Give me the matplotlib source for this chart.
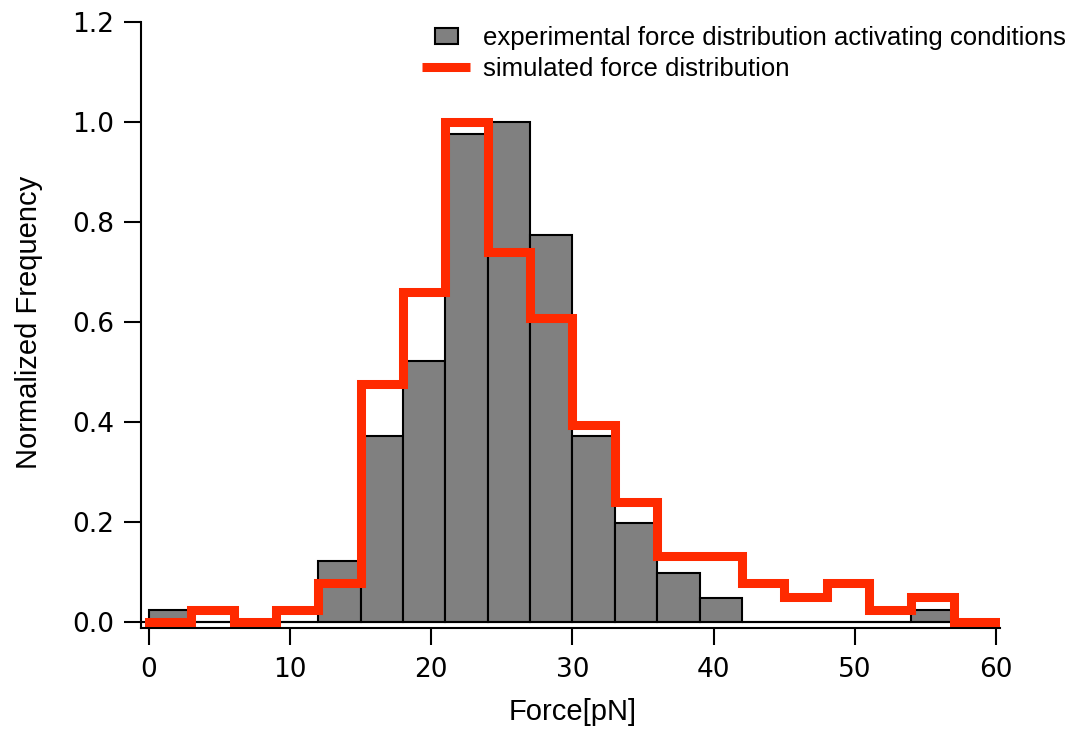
import numpy as np
import matplotlib
matplotlib.use("Agg")
import matplotlib.pyplot as plt
from matplotlib.patches import Patch, Rectangle
from matplotlib.lines import Line2D
from matplotlib.legend_handler import HandlerPatch

# bin edges in pN (3 pN bins, 0..60)
bin_edges = np.arange(0, 61, 3)

# experimental histogram (normalized)
exp_freq = [0.024, 0.0, 0.0, 0.0, 0.122, 0.372, 0.522, 0.976, 1.0, 0.774,
            0.372, 0.198, 0.098, 0.048, 0.0, 0.0, 0.0, 0.0, 0.024, 0.0]

# simulated distribution (normalized)
sim_freq = [0.0, 0.024, 0.0, 0.024, 0.078, 0.476, 0.66, 1.0, 0.74, 0.608,
            0.394, 0.24, 0.132, 0.132, 0.078, 0.05, 0.078, 0.024, 0.05, 0.0]

RED = '#ff2a00'
GRAY = '#808080'
plt.rcParams['font.family'] = ['DejaVu Sans']

fig = plt.figure(figsize=(10.72, 7.32), dpi=100)
ax = fig.add_axes([0.1315, 0.142, 0.8015, 0.828])

ax.bar(bin_edges[:-1], exp_freq, width=3, align='edge', color=GRAY,
       edgecolor='black', linewidth=1.5, zorder=2)
ax.plot([-0.57, 60.3], [0, 0], color='black', lw=1.5, zorder=2.5)
st = ax.stairs(sim_freq, bin_edges, color=RED, linewidth=6.5, zorder=3)
st.set_capstyle('projecting')

ax.set_xlim(-0.57, 60.3)
ax.set_ylim(-0.012, 1.2)
ax.set_xticks(np.arange(0, 61, 10))
ax.set_yticks(np.arange(0, 1.21, 0.2))
ax.set_yticklabels([f"{v:.1f}" for v in np.arange(0, 1.21, 0.2)])

for s in ['top', 'right']:
    ax.spines[s].set_visible(False)
for s in ['left', 'bottom']:
    ax.spines[s].set_linewidth(1.5)
ax.tick_params(direction='out', length=12.5, width=1.5, labelsize=19)
ax.tick_params(axis='x', pad=8)
ax.tick_params(axis='y', pad=6.5)

ax.set_xlabel("Force[pN]", fontsize=21, family='Liberation Sans')
ax.set_ylabel("Normalized Frequency", fontsize=21, family='Liberation Sans')
ax.xaxis.set_label_coords(0.502, -0.115)
ax.yaxis.set_label_coords(-0.114, 0.505)


def small_rect(legend, orig_handle, xdescent, ydescent, width, height, fontsize):
    w, h = 16.5, 11.5
    return Rectangle((-xdescent + (width - w) / 2, -ydescent + (height - h) / 2), w, h)


handles = [Patch(facecolor=GRAY, edgecolor='black', linewidth=1.5),
           Line2D([0], [0], color=RED, lw=6.5, solid_capstyle='butt')]
labels = ["experimental force distribution activating conditions",
          "simulated force distribution"]
leg = ax.legend(handles, labels, loc='upper left', bbox_to_anchor=(0.3937, 0.965),
                bbox_transform=fig.transFigure, frameon=False,
                prop={'family': 'Liberation Sans', 'size': 18.5},
                handlelength=1.87, handletextpad=0.5, labelspacing=0.3,
                borderpad=0, borderaxespad=0,
                handler_map={Patch: HandlerPatch(patch_func=small_rect)})

fig.savefig("out.png", dpi=100)
